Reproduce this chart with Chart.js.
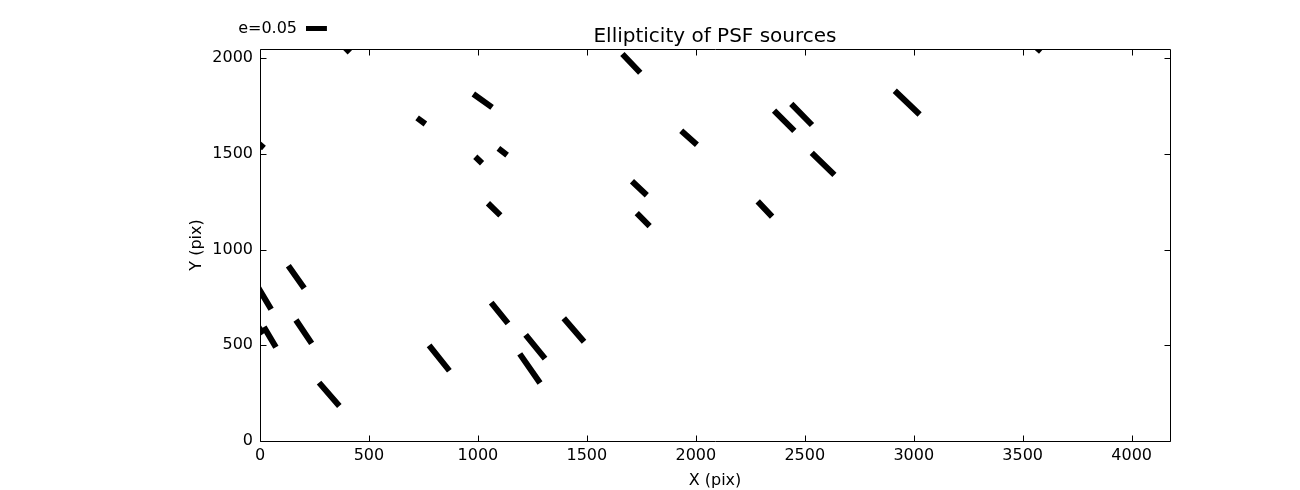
<!DOCTYPE html>
<html>
<head>
<meta charset="utf-8">
<script src="https://cdn.jsdelivr.net/npm/chart.js@4.4.1/dist/chart.umd.min.js"></script>
<style>
  html, body { margin: 0; padding: 0; background: #fff; }
  #wrap { width: 1300px; height: 490px; }
</style>
</head>
<body>
<div id="wrap"><canvas id="c" width="1300" height="490"></canvas></div>
<script>
// ---- data ----
const xMin = 0, xMax = 4176;
const yMin = 0, yMax = 2048;
const xTicks = [0, 500, 1000, 1500, 2000, 2500, 3000, 3500, 4000];
const yTicks = [0, 500, 1000, 1500, 2000];

// ellipticity sticks: start and end points in image pixel coordinates
const stickX1 = [-14, 365, 721, 979, 988, 1094, 130, -18, 18, -23, 165, 271, 776, 1061, 1046, 1933, 1707, 1729, 1219, 1192, 1394, 1663, 2359, 2438, 2532, 2284, 2913, 3534];
const stickY1 = [1562, 2085, 1688, 1813, 1485, 1529, 916, 820, 596, 622, 632, 305, 500, 723, 1242, 1621, 1357, 1190, 554, 455, 641, 2022, 1726, 1761, 1505, 1252, 1830, 2085];
const stickX2 = [18, 412, 759, 1065, 1019, 1134, 203, 51, 73, 14, 237, 364, 869, 1138, 1103, 2005, 1775, 1788, 1308, 1285, 1487, 1745, 2452, 2533, 2636, 2350, 3027, 3584];
const stickY2 = [1531, 2030, 1656, 1743, 1451, 1494, 798, 688, 490, 559, 510, 183, 367, 615, 1179, 1548, 1284, 1123, 430, 303, 519, 1924, 1620, 1651, 1390, 1172, 1706, 2035];

const keyE = 0.05;
const keyLengthX = 96; // key stick length in x data units

const titleText = 'Ellipticity of PSF sources';
const xLabel = 'X (pix)';
const yLabel = 'Y (pix)';

// ---- build line data with gaps between sticks ----
const stickPoints = [];
for (let i = 0; i < stickX1.length; i++) {
  stickPoints.push({x: stickX1[i], y: stickY1[i]});
  stickPoints.push({x: stickX2[i], y: stickY2[i]});
  stickPoints.push({x: NaN, y: NaN});
}

const FONT = 'DejaVu Sans';

const framePlugin = {
  id: 'frame',
  afterDraw(chart) {
    const {ctx, chartArea: a, scales: {x, y}} = chart;
    ctx.save();
    ctx.strokeStyle = '#000';
    ctx.lineWidth = 1;
    const L = Math.round(a.left) + 0.5, R = Math.round(a.right) + 0.5;
    const T = Math.round(a.top) + 0.5, B = Math.round(a.bottom) + 0.5;
    ctx.beginPath();
    ctx.rect(L, T, R - L, B - T);
    const tl = 6;
    x.ticks.forEach(t => {
      const px = Math.round(x.getPixelForValue(t.value)) + 0.5;
      ctx.moveTo(px, B); ctx.lineTo(px, B - tl);
      ctx.moveTo(px, T); ctx.lineTo(px, T + tl);
    });
    y.ticks.forEach(t => {
      const py = Math.round(y.getPixelForValue(t.value)) + 0.5;
      ctx.moveTo(L, py); ctx.lineTo(L + tl, py);
      ctx.moveTo(R, py); ctx.lineTo(R - tl, py);
    });
    ctx.stroke();

    // quiver key
    const ky = 28.5;
    const kx0 = 306;
    const klen = x.getPixelForValue(keyLengthX) - x.getPixelForValue(0);
    ctx.lineWidth = 5;
    ctx.lineCap = 'butt';
    ctx.beginPath();
    ctx.moveTo(kx0, ky); ctx.lineTo(kx0 + klen, ky);
    ctx.stroke();
    ctx.fillStyle = '#000';
    ctx.font = '16px "' + FONT + '"';
    ctx.textAlign = 'right';
    ctx.textBaseline = 'middle';
    ctx.fillText('e=' + keyE.toFixed(2), kx0 - 9, ky);
    ctx.restore();
  }
};

new Chart(document.getElementById('c'), {
  type: 'scatter',
  data: {
    datasets: [{
      data: stickPoints,
      showLine: true,
      spanGaps: false,
      borderColor: '#000',
      backgroundColor: '#000',
      borderWidth: 6,
      borderCapStyle: 'butt',
      pointRadius: 0,
      pointHoverRadius: 0,
      clip: 0
    }]
  },
  options: {
    responsive: false,
    animation: false,
    events: [],
    layout: { padding: { left: 187, right: 130, top: 0, bottom: 0 } },
    plugins: {
      legend: { display: false },
      tooltip: { enabled: false },
      title: {
        display: true,
        text: titleText,
        fullSize: false,
        color: '#000',
        font: { family: FONT, size: 20, weight: 'normal' },
        padding: { top: 25, bottom: 0 }
      }
    },
    scales: {
      x: {
        type: 'linear',
        min: xMin, max: xMax,
        grid: { display: false, drawTicks: false, tickLength: 0 },
        border: { display: false },
        afterBuildTicks: s => { s.ticks = xTicks.map(v => ({value: v})); },
        afterFit: s => { s.height = 49; },
        ticks: {
          color: '#000',
          font: { family: FONT, size: 16 },
          padding: 5,
          maxRotation: 0,
          autoSkip: false,
          callback: v => String(v)
        },
        title: {
          display: true, text: xLabel, color: '#000',
          font: { family: FONT, size: 16 },
          padding: { top: 0, bottom: 0 }
        }
      },
      y: {
        type: 'linear',
        min: yMin, max: yMax,
        grid: { display: false, drawTicks: false, tickLength: 0 },
        border: { display: false },
        afterBuildTicks: s => { s.ticks = yTicks.map(v => ({value: v})); },
        afterFit: s => { s.width = 73; },
        ticks: {
          color: '#000',
          font: { family: FONT, size: 16 },
          padding: 7,
          autoSkip: false,
          callback: v => String(v)
        },
        title: {
          display: true, text: yLabel, color: '#000',
          font: { family: FONT, size: 16 },
          padding: { top: 0, bottom: 0 }
        }
      }
    }
  },
  plugins: [framePlugin]
});
</script>
</body>
</html>
